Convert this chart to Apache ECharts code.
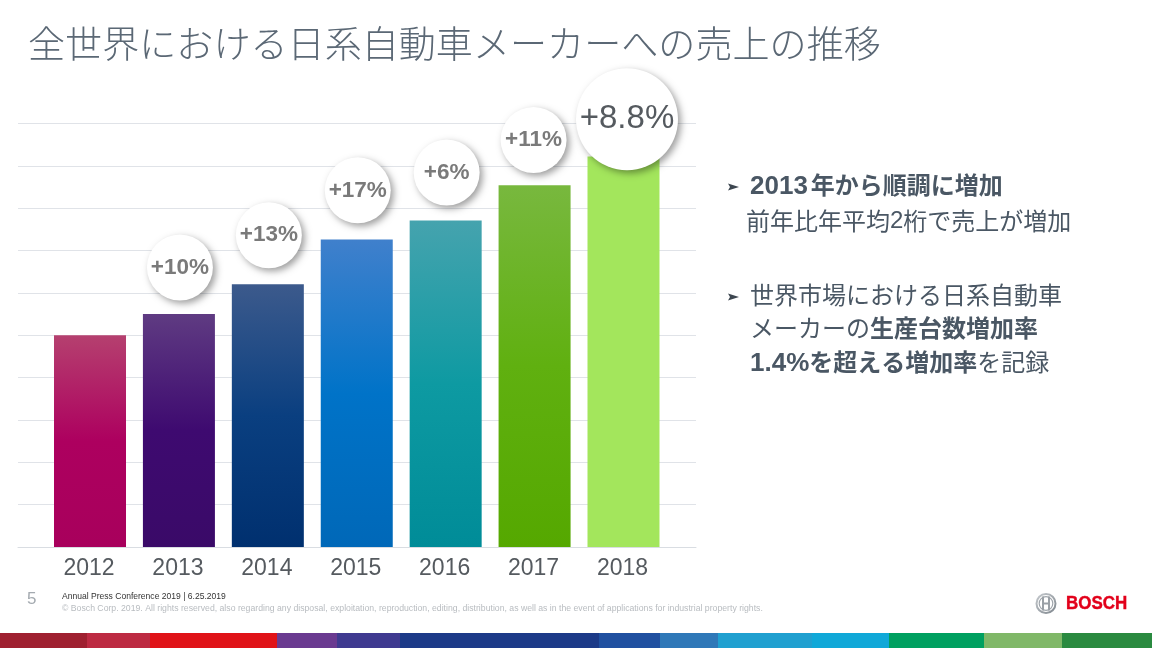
<!DOCTYPE html>
<html><head><meta charset="utf-8">
<script src="https://cdn.jsdelivr.net/npm/echarts@6/dist/echarts.min.js"></script>
<style>html,body{margin:0;padding:0;background:#fff}#c{width:1152px;height:648px}</style>
</head><body><div id="c"></div>
<script>
const years = ['2012','2013','2014','2015','2016','2017','2018'];
const sales = [5.0,5.5,6.2,7.26,7.71,8.54,9.22];
const barTop = ['#b5406f','#5f3b82','#3c5a8c','#4080cc','#45a3ae','#78b83e','#a3e65c'];
const barMid = ['#ad005f','#3e0a70','#0a3f80','#0073c8','#0e9aa2','#60b010','#a3e65c'];
const barEnd = ['#a8005c','#3a0a68','#00306f','#0068b8','#008c98','#55a800','#a3e65c'];
const growthYears = ['2013','2014','2015','2016','2017','2018'];
const growthLabels = ['+10%','+13%','+17%','+6%','+11%','+8.8%'];
const bubbleLevels = [6.6,7.36,8.42,8.84,9.61,10.1];
const stripColors = [['#9f2030',87],['#bd2a42',63],['#e01318',127],['#6a3a90',60],['#3f3a90',63],['#1c3a88',199],['#2050a0',61],['#2f78b8',58],['#20a0d0',94],['#10a8d8',77],['#00a060',95],['#80b868',78],['#2a8a40',90]];

const chart = echarts.init(document.getElementById('c'), null, {renderer:'canvas'});
const T = '#4a5764';
const cjk = '"Noto Sans CJK JP"';
const lat = '"Liberation Sans"';
const rich = {
  n:{fontFamily:cjk,fontSize:24,color:T},
  b:{fontFamily:cjk,fontSize:24,fontWeight:700,color:T},
  ln:{fontFamily:lat,fontSize:24,color:T},
  lb:{fontFamily:lat,fontSize:26,fontWeight:700,color:T,padding:[3,3,0,0]},
  lc:{fontFamily:lat,fontSize:26,fontWeight:700,color:T,padding:[3,0,0,0]}
};
const line = (x,y,text)=>({type:'text',x,y,style:{text,rich,textVerticalAlign:'middle',fill:T,font:'24px '+cjk}});
const plain = (x,y,text,font,fill,align)=>({type:'text',x,y,style:{text,font,fill,textAlign:align||'left',textVerticalAlign:'middle'}});
const tri = (x,y)=>({type:'polygon',shape:{points:[[x,y-3.5],[x+11,y],[x,y+3.5],[x+2,y]]},style:{fill:'#3d4650'}});

let sx = 0;
const strip = stripColors.map(([c,w])=>{const r={type:'rect',shape:{x:sx,y:633,width:w+0.5,height:15},style:{fill:c},silent:true};sx+=w;return r;});

const lx=1046, ly=603.5;
const logo = [
 {type:'circle',shape:{cx:lx,cy:ly,r:9.5},style:{fill:'#fff',stroke:new echarts.graphic.LinearGradient(0,0,1,1,[{offset:0,color:'#c8ccd0'},{offset:1,color:'#7d858c'}]),lineWidth:2}},
 {type:'circle',shape:{cx:lx,cy:ly,r:6.8},style:{fill:'none',stroke:'#a0a6ac',lineWidth:1.2}},
 {type:'rect',shape:{x:lx-4,y:ly-7,width:2,height:14},style:{fill:'#9aa0a6'}},
 {type:'rect',shape:{x:lx+2,y:ly-7,width:2,height:14},style:{fill:'#9aa0a6'}},
 {type:'rect',shape:{x:lx-4,y:ly-1,width:8,height:2},style:{fill:'#9aa0a6'}}
];

chart.setOption({
  animation:false,
  backgroundColor:'#fff',
  grid:[
    {left:18,width:678,top:123.4,height:423.6},
    {left:45.55,width:622.4,top:123.4,height:423.6}
  ],
  xAxis:[
    {type:'category',gridIndex:0,data:[''],axisLine:{show:true,lineStyle:{color:'#d9dde2',width:1}},axisTick:{show:false},axisLabel:{show:false}},
    {type:'category',gridIndex:1,data:years,axisLine:{show:false},axisTick:{show:false},
     axisLabel:{fontFamily:lat,fontSize:23,color:'#555a5f',margin:10,padding:[0,2,0,0]}}
  ],
  yAxis:[
    {type:'value',gridIndex:0,min:0,max:10,interval:1,axisLine:{show:false},axisTick:{show:false},axisLabel:{show:false},
     splitLine:{lineStyle:{color:'#e0e3e8',width:1}}},
    {type:'value',gridIndex:1,min:0,max:10,interval:1,axisLine:{show:false},axisTick:{show:false},axisLabel:{show:false},splitLine:{show:false}}
  ],
  series:[
    {type:'bar',xAxisIndex:1,yAxisIndex:1,barWidth:72,z:3,
     data:sales.map((v,i)=>({value:v,itemStyle:{color:new echarts.graphic.LinearGradient(0,0,0,1,[
       {offset:0,color:barTop[i]},{offset:0.5,color:barMid[i]},{offset:1,color:barEnd[i]}])}}))},
    {type:'scatter',xAxisIndex:1,yAxisIndex:1,z:5,clip:false,
     data:growthYears.map((y,i)=>{
       const big=i===5;
       return {value:[y,bubbleLevels[i]],symbolSize:big?102:66,symbolOffset:big?[3.5,0]:[i===4?-1:1,0],
        label:{show:true,position:'inside',formatter:growthLabels[i],fontFamily:lat,
          fontSize:big?33:22.5,fontWeight:big?'normal':'bold',color:big?'#555a5f':'#7a7a7a'}};
     }),
     symbol:'circle',
     itemStyle:{color:'#fff',opacity:1,shadowColor:'rgba(0,0,0,0.38)',shadowBlur:7,shadowOffsetX:3,shadowOffsetY:3}}
  ],
  graphic:[
    plain(28,44,'全世界における日系自動車メーカーへの売上の推移','300 37.1px '+cjk,'#5b6875'),
    tri(728,187),
    line(750,185,'{lb|2013}{b|年から順調に増加}'),
    line(746,221,'{n|前年比年平均}{ln|2}{n|桁で売上が増加}'),
    tri(728,297),
    line(750,295,'{n|世界市場における日系自動車}'),
    line(750,328,'{n|メーカーの}{b|生産台数増加率}'),
    line(750,362,'{lc|1.4%}{b|を超える増加率}{n|を記録}'),
    plain(27,599,'5','17px '+lat,'#a4aab0'),
    plain(62,597,'Annual Press Conference 2019 | 6.25.2019','8.55px '+lat,'#333'),
    plain(62,609,'© Bosch Corp. 2019. All rights reserved, also regarding any disposal, exploitation, reproduction, editing, distribution, as well as in the event of applications for industrial property rights.','8.7px '+lat,'#b8bcc0'),
    {type:'text',x:1066,y:604,scaleX:0.94,style:{text:'BOSCH',font:'bold 18px '+lat,fill:'#e2001a',stroke:'#e2001a',lineWidth:0.4,textVerticalAlign:'middle'}},
    ...logo,
    ...strip
  ]
});
</script></body></html>
